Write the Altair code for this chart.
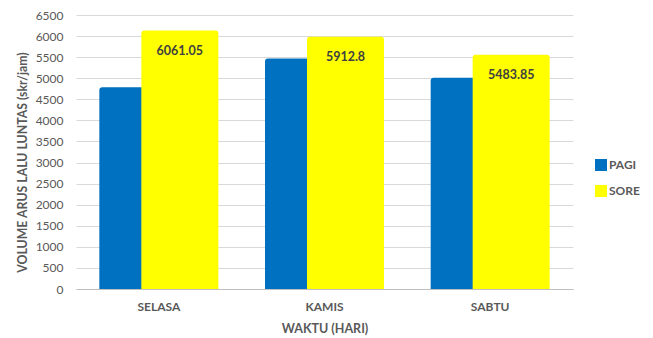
import altair as alt
import pandas as pd

days = ["SELASA", "KAMIS", "SABTU"]
pagi = [4717, 5398, 4940]
sore = [6061.05, 5912.8, 5483.85]
series = ["PAGI", "SORE"]
colors = ["#0070C0", "#FFFF00"]
y_ticks = list(range(0, 6501, 500))

rows = []
for d, p, s in zip(days, pagi, sore):
    rows.append({"day": d, "series": "PAGI", "value": p})
    rows.append({"day": d, "series": "SORE", "value": s})
df = pd.DataFrame(rows)

FONT = "Lato"
GREY = "#595959"

x_enc = alt.X(
    "day:N", sort=days,
    scale=alt.Scale(paddingInner=0, paddingOuter=0),
    axis=alt.Axis(title="WAKTU (HARI)", labelAngle=0, ticks=False,
                  labelPadding=12, titlePadding=10, domainColor="#BFBFBF",
                  labelFontWeight="bold", labelFontSize=12, labelColor=GREY,
                  titleFontSize=12.5, titleColor=GREY, titleFontWeight="bold",
                  labelFont=FONT, titleFont=FONT),
)
y_enc = alt.Y(
    "value:Q",
    scale=alt.Scale(domain=[0, 6500], nice=False),
    axis=alt.Axis(title="VOLUME ARUS LALU LUNTAS (skr/jam)", values=y_ticks,
                  format="d",
                  domain=False, ticks=False, labelPadding=13,
                  titleX=-54, titleY=147, titleAngle=-90,
                  titleAlign="center", titleBaseline="middle",
                  gridColor="#D9D9D9", labelFontSize=12, labelColor=GREY,
                  titleFontSize=12.3, titleColor=GREY, titleFontWeight="bold",
                  labelFont=FONT, titleFont=FONT),
)
color_enc = alt.Color(
    "series:N",
    scale=alt.Scale(domain=series, range=colors),
    legend=alt.Legend(title=None, orient="none", legendX=519, legendY=144,
                      symbolType="square", symbolSize=144, symbolStrokeWidth=0,
                      rowPadding=14, labelFontSize=12, labelFontWeight="bold",
                      labelColor=GREY, labelFont=FONT, labelOffset=2),
)

base = alt.Chart(df)

bars_pagi = base.transform_filter(alt.datum.series == "PAGI").mark_bar(
    width=71, xOffset=-21, stroke="#0070C0", strokeWidth=6, strokeJoin="round",
    clip=True,
).encode(x=x_enc, y=y_enc, color=color_enc)

bars_sore = base.transform_filter(alt.datum.series == "SORE").mark_bar(
    width=71, xOffset=21, stroke="#FFFF00", strokeWidth=6, strokeJoin="round",
    clip=True,
).encode(x=x_enc, y=y_enc, color=color_enc)

labels = base.transform_filter(alt.datum.series == "SORE").mark_text(
    xOffset=21, dy=17, baseline="middle", align="center",
    font=FONT, fontSize=12.5, fontWeight="bold", color="#404040",
).encode(x=x_enc, y=y_enc, text=alt.Text("value:Q", format="~f"))

chart = alt.layer(bars_pagi, bars_sore, labels).properties(
    width=497, height=274,
    autosize=alt.AutoSizeParams(type="none"),
    padding={"left": 76, "top": 15, "right": 80, "bottom": 49},
    background="white",
).configure_view(stroke=None)

chart.save("out.html", embed_options={"renderer": "svg", "actions": False})
